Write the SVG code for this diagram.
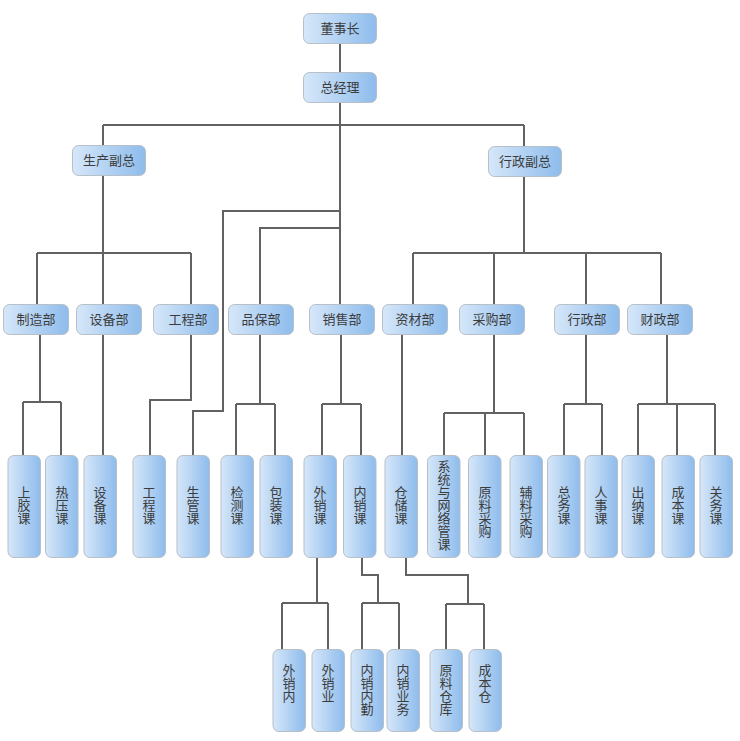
<svg xmlns="http://www.w3.org/2000/svg" width="740" height="741" viewBox="0 0 740 741">
<defs>
<linearGradient id="g" x1="0" y1="0" x2="1" y2="0">
<stop offset="0" stop-color="#d6e7f9"/>
<stop offset="1" stop-color="#8ebcec"/>
</linearGradient>
</defs>
<style>
.b{fill:url(#g);stroke:#b7bfc8;stroke-width:1}
.t{font-family:"Noto Sans CJK SC","Noto Sans",sans-serif;font-size:13px;fill:#3c3c3c;text-anchor:middle}
.v{font-family:"Noto Sans CJK SC","Noto Sans",sans-serif;font-size:13px;fill:#3c3c3c;writing-mode:vertical-rl;text-anchor:start}
.c path{fill:none;stroke:#626262;stroke-width:2}
</style>
<rect width="740" height="741" fill="#fff"/>
<g class="c" id="connectors">
<path d="M340 43V72M340 102V304M103 125H524M103 125V145M524 125V146"/>
<path d="M103 176V304M37 253H191M37 253V304M191 253V304"/>
<path d="M340 211H223V411H193V455M340 228H260V304"/>
<path d="M524 177V253M413 253H661M413 253V304M494 253V304M586 253V304M661 253V304"/>
<path d="M40 334V402M23 402H61M23 402V455M61 402V455M103 334V455M191 334V400H150V455"/>
<path d="M260 334V404M236 404H275M236 404V455M275 404V455M341 334V404M322 404H361M322 404V455M361 404V455"/>
<path d="M402 334V455M494 334V413M444 413H524M444 413V455M485 413V455M524 413V455"/>
<path d="M586 334V404M564 404H602M564 404V455M602 404V455M667 334V404M638 404H715M638 404V455M677 404V455M715 404V455"/>
<path d="M317 557V603M282 603H328M282 603V649M328 603V649M362 557V575H378V603M362 603H399M362 603V649M399 603V649M406 557V575H468V604M446 604H484M446 604V649M484 604V649"/>
</g>
<g id="n-dsz"><rect class="b" x="303.5" y="13.5" width="73" height="30" rx="6"/><text class="t" x="340" y="33">董事长</text></g>
<g id="n-zjl"><rect class="b" x="303.5" y="72.5" width="73" height="30" rx="6"/><text class="t" x="340" y="92">总经理</text></g>
<g id="n-scfz"><rect class="b" x="72.5" y="145.5" width="73" height="30" rx="6"/><text class="t" x="109" y="165">生产副总</text></g>
<g id="n-xzfz"><rect class="b" x="488.5" y="146.5" width="73" height="30" rx="6"/><text class="t" x="525" y="166">行政副总</text></g>
<g id="n-zzb"><rect class="b" x="3.5" y="304.5" width="65" height="30" rx="6"/><text class="t" x="36" y="324">制造部</text></g>
<g id="n-sbb"><rect class="b" x="76.5" y="304.5" width="65" height="30" rx="6"/><text class="t" x="109" y="324">设备部</text></g>
<g id="n-gcb"><rect class="b" x="153.5" y="304.5" width="65" height="30" rx="6"/><text class="t" x="188" y="324">工程部</text></g>
<g id="n-pbb"><rect class="b" x="228.5" y="304.5" width="65" height="30" rx="6"/><text class="t" x="261" y="324">品保部</text></g>
<g id="n-xsb"><rect class="b" x="309.5" y="304.5" width="65" height="30" rx="6"/><text class="t" x="342" y="324">销售部</text></g>
<g id="n-zcb"><rect class="b" x="382.5" y="304.5" width="65" height="30" rx="6"/><text class="t" x="415" y="324">资材部</text></g>
<g id="n-cgb"><rect class="b" x="459.5" y="304.5" width="65" height="30" rx="6"/><text class="t" x="492" y="324">采购部</text></g>
<g id="n-xzb"><rect class="b" x="554.5" y="304.5" width="65" height="30" rx="6"/><text class="t" x="587" y="324">行政部</text></g>
<g id="n-czb"><rect class="b" x="627.5" y="304.5" width="65" height="30" rx="6"/><text class="t" x="660" y="324">财政部</text></g>
<g id="n-sjk"><rect class="b" x="8" y="455.5" width="32.5" height="102" rx="6"/><text class="v" x="24" y="486">上胶课</text></g>
<g id="n-ryk"><rect class="b" x="45.5" y="455.5" width="32.5" height="102" rx="6"/><text class="v" x="62" y="486">热压课</text></g>
<g id="n-sbk"><rect class="b" x="84" y="455.5" width="32.5" height="102" rx="6"/><text class="v" x="100" y="486">设备课</text></g>
<g id="n-gck"><rect class="b" x="133" y="455.5" width="32.5" height="102" rx="6"/><text class="v" x="149" y="486">工程课</text></g>
<g id="n-sgk"><rect class="b" x="177" y="455.5" width="32.5" height="102" rx="6"/><text class="v" x="193" y="486">生管课</text></g>
<g id="n-jck"><rect class="b" x="221" y="455.5" width="32.5" height="102" rx="6"/><text class="v" x="237" y="486">检测课</text></g>
<g id="n-bzk"><rect class="b" x="260" y="455.5" width="32.5" height="102" rx="6"/><text class="v" x="276" y="486">包装课</text></g>
<g id="n-wxk"><rect class="b" x="304" y="455.5" width="32.5" height="102" rx="6"/><text class="v" x="320" y="486">外销课</text></g>
<g id="n-nxk"><rect class="b" x="343.5" y="455.5" width="32.5" height="102" rx="6"/><text class="v" x="360" y="486">内销课</text></g>
<g id="n-cck"><rect class="b" x="385" y="455.5" width="32.5" height="102" rx="6"/><text class="v" x="401" y="486">仓储课</text></g>
<g id="n-xtk"><rect class="b" x="427.5" y="455.5" width="32.5" height="102" rx="6"/><text class="v" x="444" y="460">系统与网络管课</text></g>
<g id="n-ylcg"><rect class="b" x="468.5" y="455.5" width="32.5" height="102" rx="6"/><text class="v" x="485" y="486">原料采购</text></g>
<g id="n-flcg"><rect class="b" x="510" y="455.5" width="32.5" height="102" rx="6"/><text class="v" x="526" y="486">辅料采购</text></g>
<g id="n-zwk"><rect class="b" x="547.5" y="455.5" width="32.5" height="102" rx="6"/><text class="v" x="564" y="486">总务课</text></g>
<g id="n-rsk"><rect class="b" x="585" y="455.5" width="32.5" height="102" rx="6"/><text class="v" x="601" y="486">人事课</text></g>
<g id="n-cnk"><rect class="b" x="622" y="455.5" width="32.5" height="102" rx="6"/><text class="v" x="638" y="486">出纳课</text></g>
<g id="n-cbk"><rect class="b" x="662" y="455.5" width="32.5" height="102" rx="6"/><text class="v" x="678" y="486">成本课</text></g>
<g id="n-gwk"><rect class="b" x="700" y="455.5" width="32.5" height="102" rx="6"/><text class="v" x="716" y="486">关务课</text></g>
<g id="n-wxn"><rect class="b" x="273" y="649.5" width="32.5" height="82" rx="6"/><text class="v" x="289" y="664">外销内</text></g>
<g id="n-wxy"><rect class="b" x="312" y="649.5" width="32.5" height="82" rx="6"/><text class="v" x="328" y="664">外销业</text></g>
<g id="n-nxnq"><rect class="b" x="351" y="649.5" width="32.5" height="82" rx="6"/><text class="v" x="367" y="664">内销内勤</text></g>
<g id="n-nxyw"><rect class="b" x="387" y="649.5" width="32.5" height="82" rx="6"/><text class="v" x="403" y="664">内销业务</text></g>
<g id="n-ylck"><rect class="b" x="430" y="649.5" width="32.5" height="82" rx="6"/><text class="v" x="446" y="664">原料仓库</text></g>
<g id="n-cbc"><rect class="b" x="469" y="649.5" width="32.5" height="82" rx="6"/><text class="v" x="485" y="664">成本仓</text></g>
</svg>
